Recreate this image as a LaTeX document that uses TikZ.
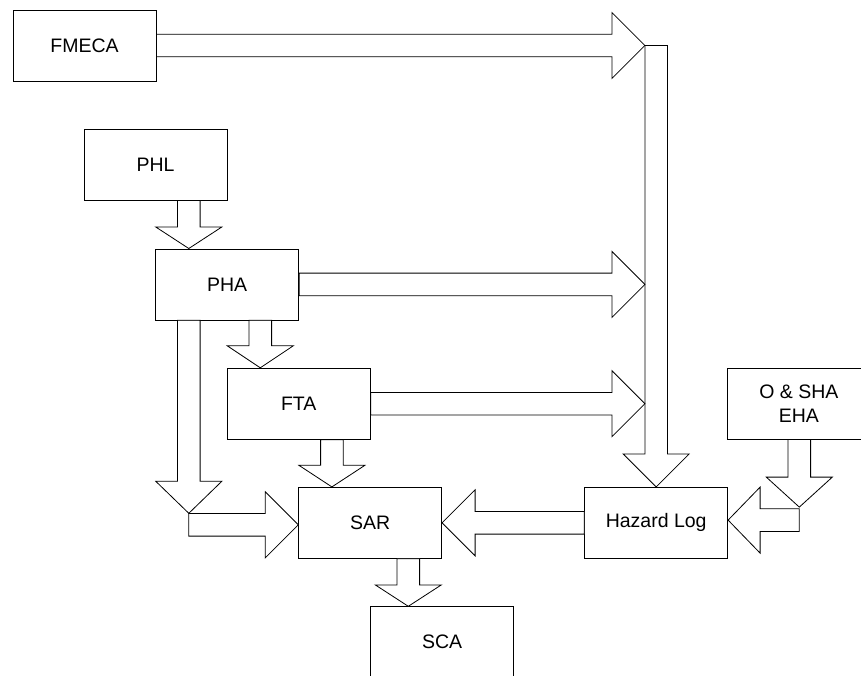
\documentclass[tikz,border=0pt]{standalone}
\usepackage{fontspec}
\setmainfont{Liberation Sans}
\usetikzlibrary{calc}

\tikzset{
  box/.style={draw, line width=0.8pt, minimum width=143pt, minimum height=71pt, inner sep=0pt, align=center},
  blockarrow/.style={draw, fill=white, line width=0.8pt, line join=miter}
}
% hollow block arrows: shaft from #1 to the tip #2, head #3 long
\newcommand{\harrow}[3]{%
  \draw[blockarrow] let \p1=#1, \p2=#2, \n1={ifthenelse(\x2>\x1,#3,-#3)} in
    (\x1,{\y2+11.3pt}) -- ({\x2-(\n1)},{\y2+11.3pt}) -- ({\x2-(\n1)},{\y2+33pt}) -- (\p2)
    -- ({\x2-(\n1)},{\y2-33pt}) -- ({\x2-(\n1)},{\y2-11.3pt}) -- (\x1,{\y2-11.3pt}) -- cycle}
\newcommand{\varrow}[3]{%
  \draw[blockarrow] let \p1=#1, \p2=#2, \n1={ifthenelse(\y2>\y1,#3,-#3)} in
    ({\x2-11.3pt},\y1) -- ({\x2-11.3pt},{\y2-(\n1)}) -- ({\x2-33pt},{\y2-(\n1)}) -- (\p2)
    -- ({\x2+33pt},{\y2-(\n1)}) -- ({\x2+11.3pt},{\y2-(\n1)}) -- ({\x2+11.3pt},\y1) -- cycle}

\begin{document}
\begin{tikzpicture}[x=1pt, y=-1pt, every node/.style={font=\fontsize{19.5}{24}\selectfont}]
\useasboundingbox (0,0) rectangle (861,675);
\clip (0,0) rectangle (861,675);

% boxes
\node[box] (fmeca) at (84.5,45.5) {FMECA};
\node[box] (phl) at (155.5,164.5) {PHL};
\node[box] (pha) at (227.2,284.4) {PHA};
\node[box] (fta) at (298.7,403.7) {FTA};
\node[box] (sar) at (370.2,522.8) {SAR};
\node[box] (sca) at (442.2,642.2) {SCA};
\node[box] (hazard) at (656.2,522.8) {Hazard Log};
\node[box] (osha) at (798.8,403.5) {O \& SHA\\EHA};

\coordinate (bus) at (fmeca.east -| hazard.north);
\coordinate (bend) at ($(pha.south west)+(33.5,193)$);
\coordinate (elbow) at ($(osha.south)+(0.5,67.7)$);

% arrows
\harrow{(fmeca.east)}{($(bus)+(-11.3,0)$)}{33};
\varrow{(bus)}{(hazard.north)}{33};
\harrow{(pha.east)}{($(pha.east -| bus)+(-11.3,0)$)}{33};
\harrow{(fta.east)}{($(fta.east -| bus)+(-11.3,0)$)}{33};
\varrow{(phl.south)}{([xshift=33.5pt]pha.north west)}{21.5};
\varrow{(pha.south)}{([xshift=33.5pt]fta.north west)}{22};
\varrow{(pha.south)}{(bend)}{32};
\harrow{($(bend)+(0,11.5)$)}{($(sar.west |- bend)+(0,11.5)$)}{33};
\varrow{(fta.south)}{([xshift=33.6pt]sar.north west)}{21.6};
\varrow{(sar.south)}{([xshift=38pt]sca.north west)}{21.4};
\harrow{(hazard.west)}{(sar.east)}{33};
\varrow{(osha.south)}{(elbow)}{30};
\harrow{($(elbow)+(0,13)$)}{($(hazard.east |- elbow)+(0,13)$)}{32};
\end{tikzpicture}
\end{document}
